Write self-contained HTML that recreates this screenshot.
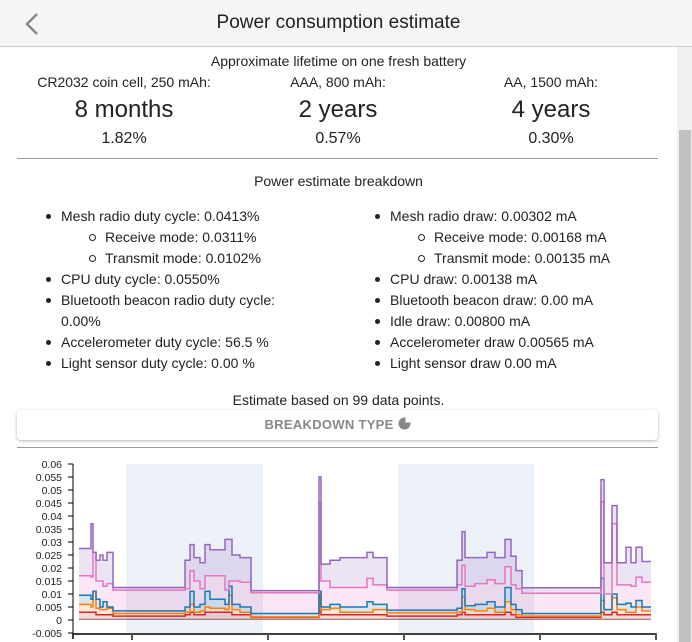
<!DOCTYPE html>
<html><head><meta charset="utf-8">
<style>
*{box-sizing:border-box;margin:0;padding:0}
body{width:692px;height:642px;overflow:hidden;background:#fff;font-family:"Liberation Sans",sans-serif;color:#222;position:relative}
.abs{position:absolute}
.c{text-align:center}
#header{left:0;top:0;width:692px;height:47px;background:#f5f5f5;border-bottom:1px solid #ccc}
#title{left:0;width:677px;top:12px;font-size:19px;color:#222}
#scroll{left:677px;top:47px;width:15px;height:595px;background:#f0f0f0}
#thumb{left:679px;top:130px;width:12px;height:512px;background:#c1c1c1}
.t14{font-size:14px}
.big{font-size:24px}
.pct{font-size:16px}
.hr{height:1px;background:#999}
ul.l{position:absolute;font-size:14px;line-height:21px;list-style:none}
ul.l li{position:relative;padding-left:0}
ul.l li.b::before{content:"";position:absolute;left:-15px;top:8px;width:5px;height:5px;border-radius:50%;background:#222}
ul.l li.s{padding-left:44px}
ul.l li.s::before{content:"";position:absolute;left:28px;top:7px;width:5px;height:5px;border-radius:50%;border:1px solid #222}
#btn{left:17px;top:410px;width:641px;height:30px;border-radius:4px;box-shadow:0 1px 3px rgba(0,0,0,.3);background:#fff;font-size:13px;font-weight:bold;color:#888;text-align:center;line-height:30px;letter-spacing:.3px}
</style></head><body>
<div class="abs" id="header"></div>
<div class="abs" style="left:22px;top:12px;width:20px;height:24px">
<svg width="20" height="24"><polyline points="15,2 5,12 15,22" fill="none" stroke="#888" stroke-width="2.5"/></svg></div>
<div class="abs c" id="title">Power consumption estimate</div>
<div class="abs" id="scroll"></div>
<div class="abs" id="thumb"></div>

<div class="abs c t14" style="left:0;width:677px;top:53px">Approximate lifetime on one fresh battery</div>
<div class="abs c t14" style="left:4px;width:240px;top:74px">CR2032 coin cell, 250 mAh:</div>
<div class="abs c big" style="left:4px;width:240px;top:96px">8 months</div>
<div class="abs c pct" style="left:4px;width:240px;top:130px">1.82%</div>
<div class="abs c t14" style="left:218px;width:240px;top:74px">AAA, 800 mAh:</div>
<div class="abs c big" style="left:218px;width:240px;top:96px">2 years</div>
<div class="abs c pct" style="left:218px;width:240px;top:130px">0.57%</div>
<div class="abs c t14" style="left:431px;width:240px;top:74px">AA, 1500 mAh:</div>
<div class="abs c big" style="left:431px;width:240px;top:96px">4 years</div>
<div class="abs c pct" style="left:431px;width:240px;top:130px">0.30%</div>
<div class="abs hr" style="left:17px;width:641px;top:158px"></div>

<div class="abs c t14" style="left:0;width:677px;top:173px">Power estimate breakdown</div>
<ul class="l" style="left:61px;top:206px;width:270px">
<li class="b">Mesh radio duty cycle: 0.0413%</li>
<li class="s">Receive mode: 0.0311%</li>
<li class="s">Transmit mode: 0.0102%</li>
<li class="b">CPU duty cycle: 0.0550%</li>
<li class="b">Bluetooth beacon radio duty cycle:<br>0.00%</li>
<li class="b">Accelerometer duty cycle: 56.5 %</li>
<li class="b">Light sensor duty cycle: 0.00 %</li>
</ul>
<ul class="l" style="left:390px;top:206px;width:270px">
<li class="b">Mesh radio draw: 0.00302 mA</li>
<li class="s">Receive mode: 0.00168 mA</li>
<li class="s">Transmit mode: 0.00135 mA</li>
<li class="b">CPU draw: 0.00138 mA</li>
<li class="b">Bluetooth beacon draw: 0.00 mA</li>
<li class="b">Idle draw: 0.00800 mA</li>
<li class="b">Accelerometer draw 0.00565 mA</li>
<li class="b">Light sensor draw 0.00 mA</li>
</ul>
<div class="abs c t14" style="left:0;width:677px;top:392px">Estimate based on 99 data points.</div>
<div class="abs" id="btn">BREAKDOWN TYPE <svg width="13" height="13" style="vertical-align:-1px"><circle cx="6.5" cy="6.5" r="6" fill="#888"/><path d="M7.5 0.5 A6 6 0 0 1 12.5 5.5 L7.5 5.5Z" fill="#fff"/></svg></div>
<div class="abs hr" style="left:17px;width:641px;top:447px"></div>

<svg class="abs" id="chart" style="left:0;top:448px" width="677" height="194"></svg>
<script>
const times=[0,12,14,17,21,24,28,34,106,111,115,121,126,131,146,150,153,161,172,240,242,251,261,288,294,308,378,383,386,396,408,416,426,432,437,443,522,525,533,538,547,552,557,563,572];
const redTop=[.003,.003,.003,.002,.002,.002,.002,.0015,.002,.003,.002,.002,.003,.003,.003,.003,.002,.002,.001,.0095,.002,.002,.002,.002,.002,.0015,.002,.003,.002,.002,.002,.002,.003,.002,.001,.001,.003,.002,.003,.002,.002,.002,.002,.002];
const orangeTop=[.006,.005,.011,.0045,.004,.004,.0045,.0025,.003,.006,.003,.0035,.005,.0045,.004,.0095,.004,.003,.0012,.011,.004,.0045,.003,.003,.004,.0028,.003,.009,.004,.0035,.0045,.003,.007,.004,.002,.0015,.0075,.004,.0085,.004,.003,.003,.005,.0035];
const blueTop=[.0095,.008,.011,.008,.005,.007,.005,.0035,.005,.011,.005,.006,.011,.008,.006,.013,.006,.005,.0025,.011,.005,.006,.005,.007,.006,.0038,.0045,.012,.0055,.006,.007,.005,.0125,.006,.004,.0025,.016,.004,.010,.006,.0065,.005,.0075,.005];
const pinkTop=[.017,.0165,.026,.015,.015,.013,.014,.0115,.012,.019,.015,.012,.017,.017,.0115,.015,.015,.0145,.0105,.045,.015,.0125,.0125,.016,.0135,.0115,.0135,.021,.013,.014,.0155,.014,.0205,.0135,.012,.0103,.0455,.010,.037,.0135,.0135,.013,.0165,.0145];
const purpleTop=[.0275,.037,.026,.023,.025,.023,.026,.0125,.023,.029,.024,.022,.029,.027,.031,.031,.025,.024,.0113,.055,.0215,.023,.024,.026,.024,.0125,.023,.034,.024,.024,.026,.024,.031,.0245,.019,.0124,.054,.022,.044,.022,.028,.022,.028,.0225];
const yTicks=[0.06,0.055,0.05,0.045,0.04,0.035,0.03,0.025,0.02,0.015,0.01,0.005,0,-0.005];
const xTickTimes=[53,189,325,461,577];
const bands=[[47,184],[319,455]];
const NS="http://www.w3.org/2000/svg";
const svg=document.getElementById('chart');
const T0=448;
const yScale=v=>(620-T0)-v*2600;
const xScale=t=>79+t;
const tEnd=times[times.length-1]+0;
function mk(tag,attrs){const e=document.createElementNS(NS,tag);for(const k in attrs)e.setAttribute(k,attrs[k]);svg.appendChild(e);return e;}
bands.forEach(b=>{const r=mk('rect',{x:xScale(b[0]),y:yScale(0.06),width:b[1]-b[0],height:yScale(-0.005)-yScale(0.06),fill:'#ecf0f7'});

});
function stepPts(arr){let p=[];for(let i=0;i<arr.length;i++){const x0=xScale(times[i]),x1=xScale(times[i+1]);p.push([x0,yScale(arr[i])],[x1,yScale(arr[i])]);}return p;}
const zeroArr=redTop.map(()=>0.0003);
const layers=[[redTop,zeroArr,'#d62728','layer-red'],[orangeTop,redTop,'#ff7f0e','layer-orange'],[blueTop,orangeTop,'#1f77b4','layer-blue'],[pinkTop,blueTop,'#e377c2','layer-pink'],[purpleTop,pinkTop,'#9467bd','layer-purple']];
layers.slice().reverse().forEach(L=>{
 const top=stepPts(L[0]),bot=stepPts(L[1]).reverse();
 const a=mk('polygon',{points:top.concat(bot).map(p=>p.join(',')).join(' '),fill:L[2],'fill-opacity':0.18});
 
 
});
layers.forEach(L=>{
 const l=mk('polyline',{points:stepPts(L[0]).map(p=>p.join(',')).join(' '),fill:'none',stroke:L[2],'stroke-width':1.5});
 
 
});
const base=mk('line',{x1:xScale(0),x2:xScale(tEnd),y1:yScale(0.0003),y2:yScale(0.0003),stroke:'#8c564b','stroke-width':1});


const ya=mk('line',{x1:73,x2:73,y1:yScale(0.06),y2:yScale(-0.005),stroke:'#000','stroke-width':1});


yTicks.forEach(v=>{const y=yScale(v);
 const tk=mk('line',{x1:68,x2:73,y1:y,y2:y,stroke:'#000'});
 
 
 const t=mk('text',{x:62,y:y+4,'text-anchor':'end','font-size':10.5,'font-family':'Liberation Sans, sans-serif',fill:'#222'});
 t.textContent=String(v);
 
 
});
const xa=mk('path',{d:`M73,${yScale(-0.005)+6}V${yScale(-0.005)+1}H656V${yScale(-0.005)+6}`,fill:'none',stroke:'#000','stroke-width':1.5});


xTickTimes.forEach(t=>{const x=xScale(t);
 const tk=mk('line',{x1:x,x2:x,y1:yScale(-0.005)+1,y2:yScale(-0.005)+7,stroke:'#555','stroke-width':2});
 
 
});
</script>
</body></html>
